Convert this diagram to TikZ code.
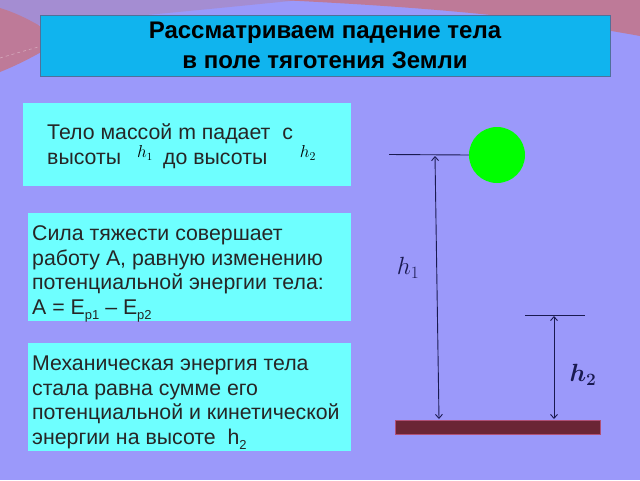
\documentclass[tikz,border=0pt]{standalone}
\usepackage{fontspec}
\usepackage{bm}
\setmainfont{Liberation Sans}
\usetikzlibrary{arrows.meta}
\definecolor{bgc}{HTML}{9B99FA}
\definecolor{mauve}{HTML}{A48DD2}
\definecolor{swoosh}{HTML}{BE7A98}
\definecolor{titlefill}{HTML}{10B4EE}
\definecolor{titleline}{HTML}{50709A}
\definecolor{boxfill}{HTML}{6EFFFF}
\definecolor{ink}{HTML}{1A1A50}
\definecolor{ground}{HTML}{6B2535}
\definecolor{groundline}{HTML}{B05075}
\newcommand\lowsub[1]{\raisebox{-5pt}{\fontsize{13}{13}\selectfont #1}}
\tikzset{
  infobox/.style={fill=boxfill, draw=none},
  bodytext/.style={anchor=base west, inner sep=0pt, font=\fontsize{21.3}{24}\selectfont, text=black!85},
  levelline/.style={draw=ink, line width=0.9pt},
  dimarrow/.style={draw=ink, line width=0.9pt, {Straight Barb[length=4pt,width=7pt]}-{Straight Barb[length=4pt,width=7pt]}},
}
\begin{document}
\begin{tikzpicture}[x=1pt,y=-1pt]
\useasboundingbox (0,0) rectangle (640,480);
% background
\fill[bgc] (0,0) rectangle (640,480);
\fill[mauve] (0,0) -- (0,28) .. controls (120,18) and (220,8) .. (300,0) -- cycle;
\fill[swoosh] (0,8) -- (0,72) .. controls (25,62) and (45,50) .. (62,40) .. controls (40,25) and (20,14) .. (0,8) -- cycle;
\fill[swoosh] (280,0) .. controls (400,6) and (520,14) .. (640,36) -- (640,0) -- cycle;
\draw[white, opacity=0.35, dashed, line width=0.6pt] (0,58) .. controls (20,52) and (35,48) .. (45,45);
% title
\node[fill=titlefill, draw=titleline, line width=0.8pt, minimum width=570pt, minimum height=61pt, inner sep=0pt, align=center,
      font=\bfseries\fontsize{24}{30}\selectfont] (title) at (325,45.5)
  {Рассматриваем падение тела\\в поле тяготения Земли};
% box 1
\path[infobox] (23,103) rectangle (351,186);
\node[bodytext] (b1l1) at (47,139) {Тело массой m падает\ \ с};
\node[bodytext] (b1l2) at (47,164) {высоты};
\node[bodytext] (b1l3) at (163,164) {до высоты};
\node[inner sep=0pt, font=\fontsize{16}{18}\selectfont] (b1h1) at (145,153) {$h_1$};
\node[inner sep=0pt, font=\fontsize{18}{20}\selectfont] (b1h2) at (308,153) {$h_2$};
% box 2
\path[infobox] (28,213) rectangle (351,321);
\node[bodytext] (b2l1) at (32,240) {Сила тяжести совершает};
\node[bodytext] (b2l2) at (32,265) {работу А, равную изменению};
\node[bodytext] (b2l3) at (32,289.5) {потенциальной энергии тела:};
\node[bodytext] (b2l4) at (32,314) {А = Е\lowsub{р1} – Е\lowsub{р2}};
% box 3
\path[infobox] (28,343) rectangle (351,451);
\node[bodytext] (b3l1) at (32,370) {Механическая энергия тела};
\node[bodytext] (b3l2) at (32,395) {стала равна сумме его};
\node[bodytext] (b3l3) at (32,419.5) {потенциальной и кинетической};
\node[bodytext] (b3l4) at (32,444) {энергии на высоте\ \ h\lowsub{2}};
% drawing
\node[circle, fill=green, minimum size=56pt, inner sep=0pt] (ball) at (497,155) {};
\coordinate (l1a) at (389,154.5);
\draw[levelline] (l1a) -- (ball.west);
\coordinate (h1top) at (435,156);
\coordinate (h1bot) at (439,419);
\draw[dimarrow] (h1top) -- (h1bot);
\node[inner sep=0pt, font=\fontsize{24}{28}\selectfont, text=ink] (h1lab) at (408,268) {$h_1$};
\coordinate (l2a) at (525,315);
\coordinate (l2b) at (585,315);
\draw[levelline] (l2a) -- (l2b);
\coordinate (h2top) at (554,316);
\coordinate (h2bot) at (554,419);
\draw[dimarrow] (h2top) -- (h2bot);
\node[inner sep=0pt, font=\fontsize{24}{28}\selectfont, text=ink] (h2lab) at (583,375) {$\bm{h_2}$};
\node[fill=ground, draw=groundline, line width=0.8pt, minimum width=205pt, minimum height=14pt, inner sep=0pt] (floor) at (497.5,427) {};
\end{tikzpicture}
\end{document}
